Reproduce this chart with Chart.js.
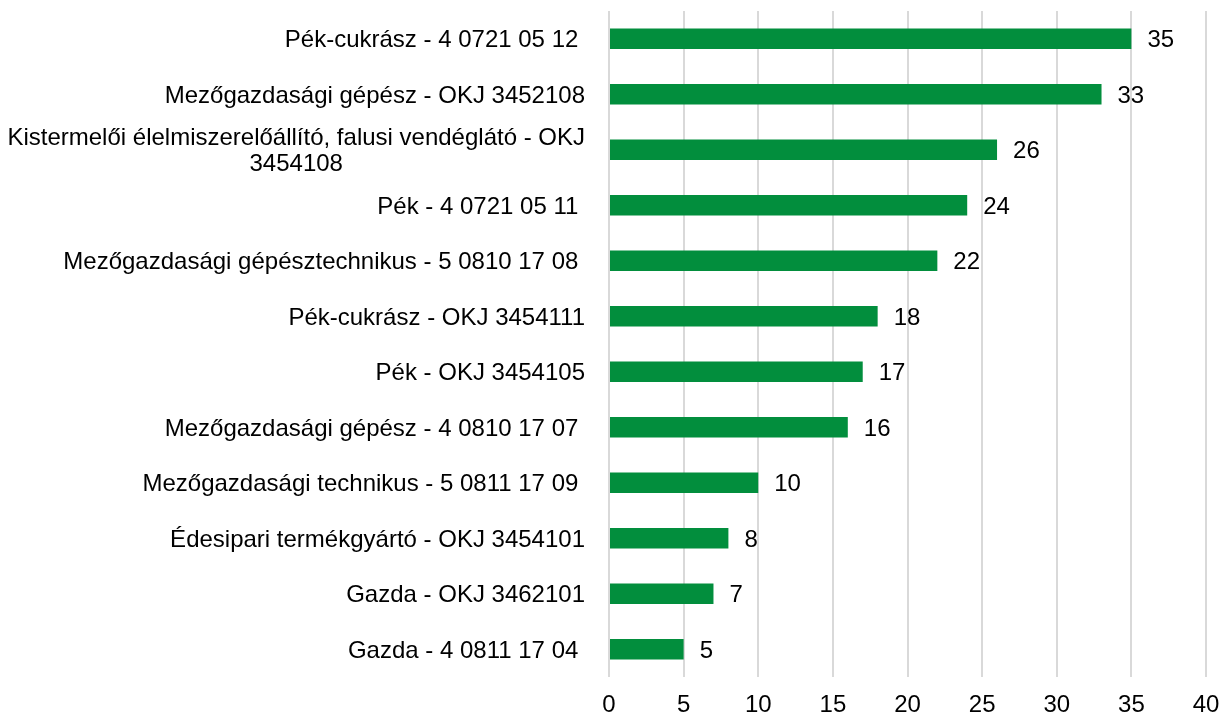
<!DOCTYPE html>
<html lang="hu">
<head>
<meta charset="UTF-8">
<title>Szakképesítések</title>
<script src="https://cdn.jsdelivr.net/npm/chart.js"></script>
<style>
  html, body { margin: 0; padding: 0; background: #fff; }
  #wrap { width: 1230px; height: 716px; }
</style>
</head>
<body>
<div id="wrap"><canvas id="grafico" width="1230" height="716"></canvas></div>
<script>
const kategoriak = [
    'Pék-cukrász - 4 0721 05 12 ',
    'Mezőgazdasági gépész - OKJ 3452108',
    ['Kistermelői élelmiszerelőállító, falusi vendéglátó - OKJ', '3454108'],
    'Pék - 4 0721 05 11 ',
    'Mezőgazdasági gépésztechnikus - 5 0810 17 08 ',
    'Pék-cukrász - OKJ 3454111',
    'Pék - OKJ 3454105',
    'Mezőgazdasági gépész - 4 0810 17 07 ',
    'Mezőgazdasági technikus - 5 0811 17 09 ',
    'Édesipari termékgyártó - OKJ 3454101',
    'Gazda - OKJ 3462101',
    'Gazda - 4 0811 17 04 '
];
const ertekek = [35, 33, 26, 24, 22, 18, 17, 16, 10, 8, 7, 5];
const xMin = 0, xMax = 40, xLepes = 5;

const csalad = '"Liberation Sans", Arial, sans-serif';
const betu = '24px ' + csalad;

// kategória feliratok és értékek kirajzolása
const feliratok = {
    id: 'feliratok',
    afterDatasetsDraw(chart) {
        const ctx = chart.ctx;
        const meta = chart.getDatasetMeta(0);
        ctx.save();
        ctx.font = betu;
        ctx.fillStyle = '#000';
        ctx.textBaseline = 'middle';
        meta.data.forEach((bar, i) => {
            ctx.textAlign = 'left';
            ctx.fillText(String(ertekek[i]), bar.x + 16, bar.y + 2);

            const sorok = Array.isArray(kategoriak[i]) ? kategoriak[i] : [kategoriak[i]];
            const szel = Math.max(...sorok.map(s => ctx.measureText(s).width));
            const kozep = 585 - szel / 2;
            const sorMag = 26;
            const y0 = bar.y + 2 - (sorok.length - 1) * sorMag / 2;
            ctx.textAlign = 'center';
            sorok.forEach((s, k) => ctx.fillText(s, kozep, y0 + k * sorMag));
        });
        ctx.restore();
    }
};

new Chart(document.getElementById('grafico').getContext('2d'), {
    type: 'bar',
    data: {
        labels: kategoriak,
        datasets: [{
            data: ertekek,
            backgroundColor: '#028e3d',
            barPercentage: 0.37,
            categoryPercentage: 1
        }]
    },
    options: {
        indexAxis: 'y',
        responsive: false,
        animation: false,
        layout: { padding: { top: 11, right: 24, left: 0, bottom: 0 } },
        plugins: { legend: { display: false }, tooltip: { enabled: false } },
        scales: {
            x: {
                min: xMin,
                max: xMax,
                ticks: { stepSize: xLepes, color: '#000', font: { family: csalad, size: 24 }, padding: 14 },
                grid: { color: '#d9d9d9', lineWidth: 2, drawTicks: false },
                border: { display: false },
                afterFit(scale) {
                    scale.height = 39;
                    scale.paddingLeft = 0;
                    scale.paddingRight = 0;
                }
            },
            y: {
                ticks: { display: false },
                grid: { display: false },
                border: { display: false },
                afterFit(scale) { scale.width = 609; }
            }
        }
    },
    plugins: [feliratok]
});
</script>
</body>
</html>
